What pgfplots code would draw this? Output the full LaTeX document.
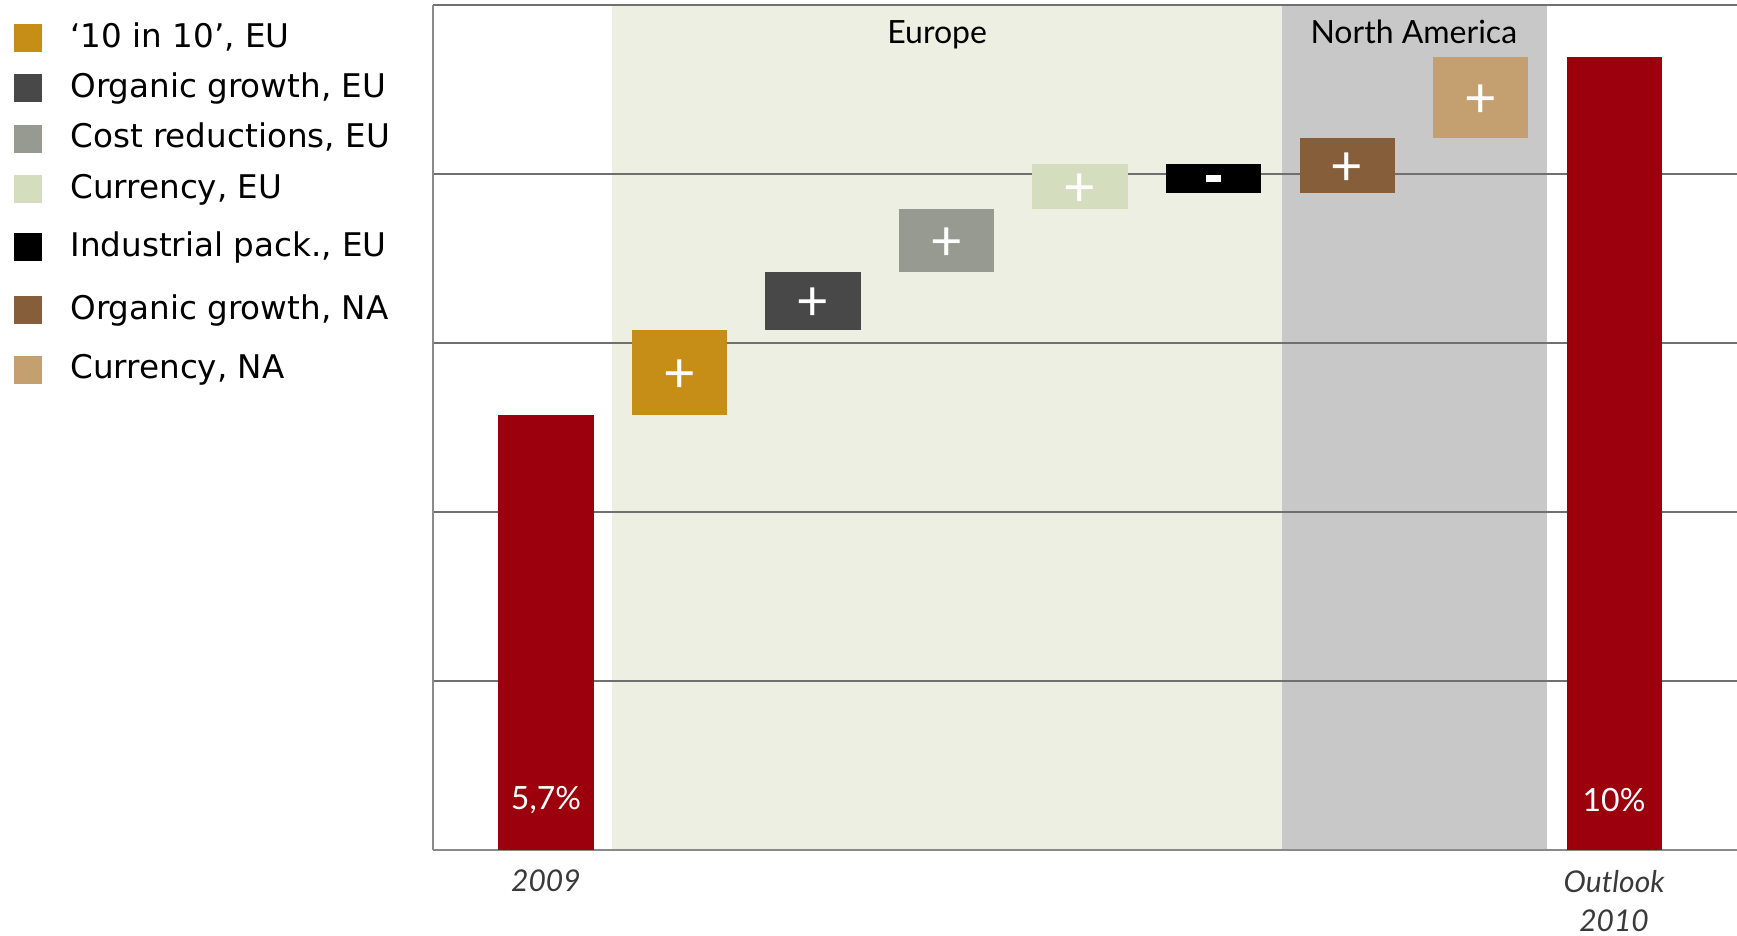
\documentclass[border=0pt]{standalone}
\usepackage{fontspec}
\setmainfont{Lato}
\newfontfamily\legfont{DejaVu Sans}
\usepackage{pgfplots}
\pgfplotsset{compat=1.18}
\definecolor{barred}{HTML}{9C000C}
\definecolor{tenorange}{HTML}{C68E17}
\definecolor{orgdark}{HTML}{484848}
\definecolor{costgray}{HTML}{969A90}
\definecolor{curlight}{HTML}{D4DDBD}
\definecolor{orgbrown}{HTML}{875E3A}
\definecolor{curtan}{HTML}{C49F70}
\definecolor{eurband}{HTML}{ECEFE2}
\definecolor{naband}{HTML}{C8C8C8}
\definecolor{gridgray}{HTML}{707070}
\definecolor{axisgray}{HTML}{8A8A8A}
\definecolor{ticktext}{HTML}{3A3A3A}

\begin{document}
\begin{tikzpicture}[x=1pt,y=1pt]
\begin{axis}[
    at={(216.25pt,43pt)}, anchor=south west,
    scale only axis, width=652.25pt, height=422.5pt,
    xmin=-0.85, xmax=8.921, ymin=0, ymax=10,
    set layers,
    axis lines*=left,
    axis line style={draw=axisgray, line width=1pt},
    ytick={0,2,...,10}, yticklabels={},
    ymajorgrids, grid style={draw=gridgray, line width=0.8pt},
    xtick={0,8}, xticklabels={2009,{Outlook\\2010}},
    major tick length=0pt,
    xticklabel style={align=center, yshift=-6.5pt,
        font=\itshape\fontsize{15}{19.5}\selectfont, text=ticktext},
    legend style={at={(-0.32082,0.98142)}, anchor=north west,
        draw=none, fill=none, inner sep=0pt,
        row sep=6.6pt, column sep=14pt,
        cells={anchor=base west},
        nodes={inner sep=0pt, text height=13pt, text depth=5.6pt,
            font=\legfont\fontsize{16.3}{19}\selectfont}},
    legend image code/.code={\fill[#1] (0pt,-2.5pt) rectangle (14pt,11.5pt);},
    every axis plot/.append style={draw=none},
]
% region bands
\addplot[fill=eurband, on layer=axis background, forget plot]
    coordinates {(0.494,0) (5.51,0) (5.51,10) (0.494,10)} -- cycle;
\addplot[fill=naband, on layer=axis background, forget plot]
    coordinates {(5.51,0) (7.50,0) (7.50,10) (5.51,10)} -- cycle;

% start and end bars
\addplot[fill=barred, forget plot]
    coordinates {(-0.356,0) (0.356,0) (0.356,5.15) (-0.356,5.15)} -- cycle;
\addplot[fill=barred, forget plot]
    coordinates {(7.644,0) (8.356,0) (8.356,9.38) (7.644,9.38)} -- cycle;

% waterfall steps
\addplot[fill=tenorange]
    coordinates {(0.644,5.15) (1.356,5.15) (1.356,6.15) (0.644,6.15)} -- cycle;
\addlegendentry{‘10 in 10’, EU}
\addplot[fill=orgdark]
    coordinates {(1.644,6.15) (2.356,6.15) (2.356,6.84) (1.644,6.84)} -- cycle;
\addlegendentry{Organic growth, EU}
\addplot[fill=costgray]
    coordinates {(2.644,6.84) (3.356,6.84) (3.356,7.58) (2.644,7.58)} -- cycle;
\addlegendentry{Cost reductions, EU}
\addplot[fill=curlight]
    coordinates {(3.644,7.58) (4.356,7.58) (4.356,8.12) (3.644,8.12)} -- cycle;
\addlegendentry[text depth=9.3pt]{Currency, EU}
\addplot[fill=black]
    coordinates {(4.644,7.78) (5.356,7.78) (5.356,8.12) (4.644,8.12)} -- cycle;
\addlegendentry[text depth=12.1pt]{Industrial pack., EU}
\addplot[fill=orgbrown]
    coordinates {(5.644,7.78) (6.356,7.78) (6.356,8.42) (5.644,8.42)} -- cycle;
\addlegendentry[text depth=10pt]{Organic growth, NA}
\addplot[fill=curtan]
    coordinates {(6.644,8.42) (7.356,8.42) (7.356,9.38) (6.644,9.38)} -- cycle;
\addlegendentry{Currency, NA}

% region titles
\node[anchor=base, font=\fontsize{16}{19}\selectfont] at (axis cs:2.93,9.55) {Europe};
\node[anchor=base, font=\fontsize{16}{19}\selectfont] at (axis cs:6.5,9.55) {North America};

% signs
\node[text=white, yshift=-1.6pt, font=\fontsize{28}{28}\selectfont] at (axis cs:1,5.65) {+};
\node[text=white, yshift=-1.6pt, font=\fontsize{28}{28}\selectfont] at (axis cs:2,6.495) {+};
\node[text=white, yshift=-1.6pt, font=\fontsize{28}{28}\selectfont] at (axis cs:3,7.21) {+};
\node[text=white, yshift=-1.6pt, font=\fontsize{28}{28}\selectfont] at (axis cs:4,7.85) {+};
\node[fill=white, inner sep=0pt, minimum width=7.2pt, minimum height=3.3pt] at (axis cs:5,7.95) {};
\node[text=white, yshift=-1.6pt, font=\fontsize{28}{28}\selectfont] at (axis cs:6,8.10) {+};
\node[text=white, yshift=-1.6pt, font=\fontsize{28}{28}\selectfont] at (axis cs:7,8.90) {+};

% value labels
\node[text=white, font=\fontsize{16}{19}\selectfont] at (axis cs:0,0.59) {5,7\%};
\node[text=white, font=\fontsize{16}{19}\selectfont] at (axis cs:8,0.59) {10\%};
\end{axis}
\pgfresetboundingbox
\path[use as bounding box] (0,0) rectangle (868.5,468);
\end{tikzpicture}
\end{document}
